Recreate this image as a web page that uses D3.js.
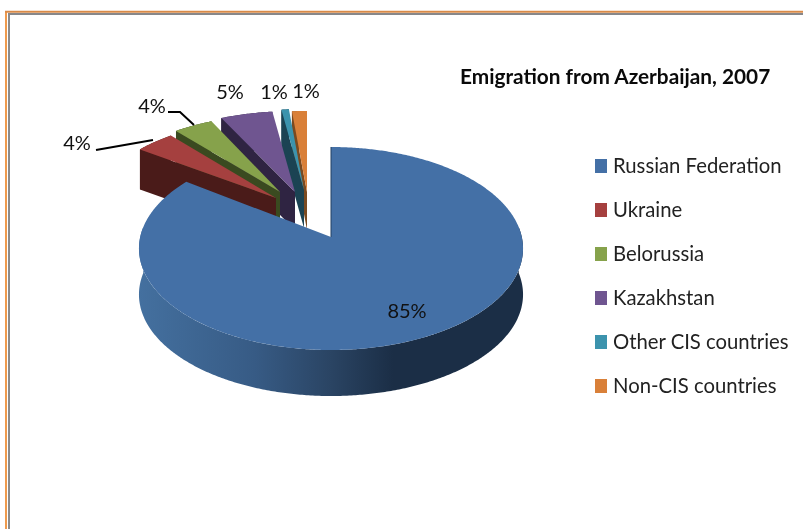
<!DOCTYPE html>
<html><head><meta charset="utf-8">
<script src="https://cdn.jsdelivr.net/npm/d3@7/dist/d3.min.js"></script>
<style>html,body{margin:0;padding:0;background:#fff}svg{display:block;filter:blur(0.4px)}text{font-family:Lato,"Open Sans",sans-serif}</style>
</head><body><svg id="c" width="803" height="529"></svg>
<script>
const categories = ["Russian Federation","Ukraine","Belorussia","Kazakhstan","Other CIS countries","Non-CIS countries"];
const shares = [85, 4, 4, 4.9, 0.7, 1.4];
const colors = ["#4470a6","#a5403f","#86a24b","#6f5590","#3c93ad","#d98039"];
const wallColors = [null,"#4a1b19","#3a4a20","#2f2442","#1b4353","#7a4a20"];
const titleText = "Emigration from Azerbaijan, 2007";

// layout (pixels), separate from the data
const origins = [[331,237],[276,198],[280,192],[295,192],[304,190],[307,192]];
const scales = [[1,1],[.94,.88],[.93,.86],[1,.9],[1,.9],[1,.9]];
const depths = [46,40,38,38,38,38];
const labelPos = [[407,311],[77,143],[152,106],[230,92],[274,92],[306,91]];
const A = 190.8, B = 100.2, K = 0.1133;

const svg = d3.select("#c");
const defs = svg.append("defs");
const grad = defs.append("linearGradient").attr("id","wall").attr("gradientUnits","userSpaceOnUse")
  .attr("x1",139).attr("x2",524).attr("y1",0).attr("y2",0);
[[0,"#44709f"],[.3,"#375b85"],[.5,"#2a4463"],[.66,"#1b2e46"],[1,"#1b2e46"]]
  .forEach(s=>grad.append("stop").attr("offset",s[0]).attr("stop-color",s[1]));

const pie = d3.pie().sort(null).value(d=>d);
const arcs = pie(shares);
const line = d3.line();

function project(i, theta, dz=0){
  const u=Math.sin(theta), v=Math.cos(theta), d=1+K*v;
  return [origins[i][0]+scales[i][0]*A*u/d, origins[i][1]-scales[i][1]*B*v/d+dz];
}
function arcPts(i, a0, a1, dz=0){
  const n=Math.max(2,Math.ceil((a1-a0)/0.01));
  return d3.range(n+1).map(k=>project(i,a0+(a1-a0)*k/n,dz));
}

// frame
svg.append("line").attr("x1",6).attr("x2",6).attr("y1",11).attr("y2",529).attr("stroke","#ee9a4d").attr("stroke-width",2);
svg.append("line").attr("x1",9).attr("x2",9).attr("y1",13).attr("y2",529).attr("stroke","#8b8b8b").attr("stroke-width",2);
svg.append("line").attr("x1",5).attr("x2",803).attr("y1",11.7).attr("y2",11.7).attr("stroke","#d98a48").attr("stroke-width",2);
svg.append("line").attr("x1",8).attr("x2",803).attr("y1",13.9).attr("y2",13.9).attr("stroke","#87878a").attr("stroke-width",2);

// small slices back to front
[5,4,3,2,1].forEach(i=>{
  const a=arcs[i], o=origins[i], dz=depths[i];
  const top=arcPts(i,a.startAngle,a.endAngle), bot=arcPts(i,a.startAngle,a.endAngle,dz);
  const g=svg.append("g");
  g.append("path").attr("d",line([...top,...bot.reverse()])+"Z").attr("fill",wallColors[i]);
  g.append("path").attr("d",line([o,top[0],[top[0][0],top[0][1]+dz],[o[0],o[1]+dz]])+"Z").attr("fill",wallColors[i]);
  g.append("path").attr("d",line([o,...top])+"Z").attr("fill",colors[i]);
});

// main slice
const m=arcs[0];
const fStart=Math.PI/2-0.1, fEnd=Math.min(m.endAngle,Math.PI*1.5+0.1);
const wt=arcPts(0,fStart,fEnd), wb=arcPts(0,fStart,fEnd,depths[0]);
svg.append("path").attr("d",line([...wt,...wb.reverse()])+"Z").attr("fill","url(#wall)");
svg.append("path").attr("d",line([origins[0],...arcPts(0,m.startAngle,m.endAngle)])+"Z").attr("fill",colors[0]);
svg.append("path").attr("d",line([project(0,0),origins[0]])).attr("stroke","#234063").attr("stroke-width",1).attr("fill","none");

// leader lines
const leaders=[[[96,150],[153,140]],[[168,112],[180,112],[194,125]]];
leaders.forEach(p=>svg.append("path").attr("d",line(p)).attr("fill","none").attr("stroke","#000").attr("stroke-width",2));

// value labels
const pct=d3.format(".0f");
svg.selectAll("text.v").data(shares).join("text").attr("class","v")
  .attr("x",(d,i)=>labelPos[i][0]).attr("y",(d,i)=>labelPos[i][1]+7)
  .attr("text-anchor","middle").attr("font-size",20).attr("fill","#111")
  .text(d=>pct(d)+"%");

// title
svg.append("text").attr("x",460).attr("y",84).attr("font-size",20.8).attr("font-weight",700).attr("fill","#0a0a0a").text(titleText);

// legend
const yL=d3.scalePoint().domain(categories).range([166,386]);
const lg=svg.selectAll("g.l").data(categories).join("g").attr("class","l");
lg.append("rect").attr("x",595).attr("y",d=>yL(d)-7).attr("width",12).attr("height",14).attr("fill",(d,i)=>colors[i]);
lg.append("text").attr("x",613).attr("y",d=>yL(d)+7).attr("font-size",20.3).attr("fill","#222").text(d=>d);
</script></body></html>
